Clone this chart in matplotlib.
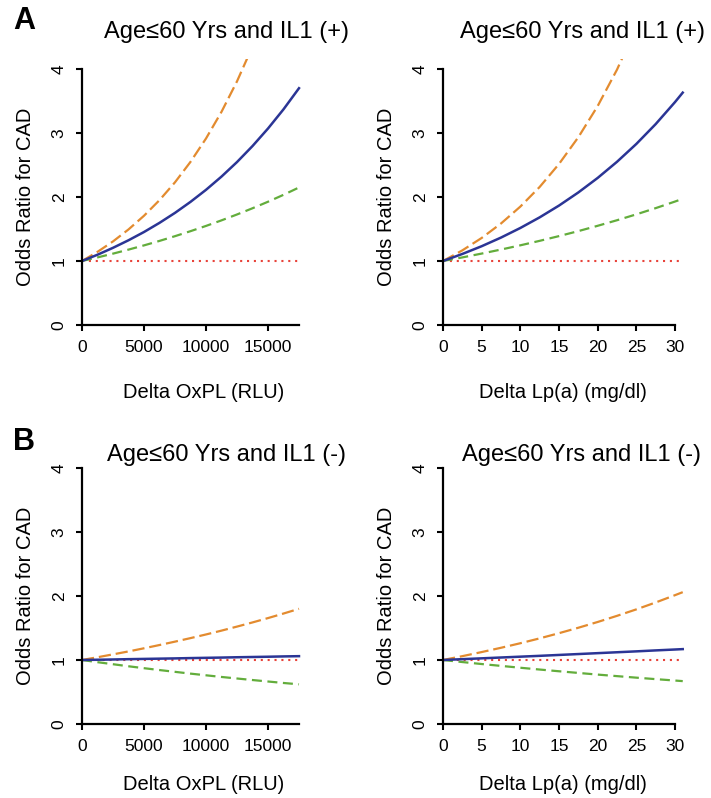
import matplotlib
matplotlib.use("Agg")
import matplotlib.pyplot as plt

plt.rcParams['font.family'] = ['Liberation Sans', 'DejaVu Sans']

# x grids
x_oxpl = [0, 1250, 2500, 3750, 5000, 6250, 7500, 8750, 10000, 11250, 12500, 13750, 15000, 16250, 17500]
x_lpa = [0, 2.5, 5, 7.5, 10, 12.5, 15, 17.5, 20, 22.5, 25, 27.5, 30, 31]

# panel A (IL1 +), OxPL
a_oxpl_or = [1.000, 1.098, 1.206, 1.324, 1.453, 1.596, 1.752, 1.924, 2.112, 2.319, 2.546, 2.796, 3.070, 3.370, 3.700]
a_oxpl_hi = [1.000, 1.143, 1.306, 1.493, 1.707, 1.951, 2.230, 2.549, 2.914, 3.331, 3.807, 4.352, 4.975, 5.687, 6.500]
a_oxpl_lo = [1.000, 1.056, 1.115, 1.178, 1.244, 1.314, 1.388, 1.466, 1.548, 1.635, 1.727, 1.824, 1.926, 2.034, 2.149]

# panel A (IL1 +), Lp(a)
a_lpa_or = [1.000, 1.110, 1.231, 1.366, 1.516, 1.682, 1.866, 2.071, 2.298, 2.550, 2.829, 3.139, 3.483, 3.631]
a_lpa_hi = [1.000, 1.166, 1.360, 1.586, 1.850, 2.157, 2.516, 2.934, 3.421, 3.990, 4.653, 5.430, 6.330, 6.740]
a_lpa_lo = [1.000, 1.056, 1.116, 1.179, 1.245, 1.315, 1.389, 1.467, 1.550, 1.637, 1.729, 1.826, 1.929, 1.972]

# panel B (IL1 -), OxPL
b_oxpl_or = [1.000, 1.004, 1.008, 1.013, 1.017, 1.021, 1.025, 1.030, 1.034, 1.038, 1.043, 1.047, 1.051, 1.056, 1.060]
b_oxpl_hi = [1.000, 1.043, 1.088, 1.134, 1.183, 1.234, 1.287, 1.342, 1.399, 1.459, 1.522, 1.587, 1.655, 1.726, 1.800]
b_oxpl_lo = [1.000, 0.966, 0.934, 0.902, 0.872, 0.843, 0.815, 0.787, 0.761, 0.735, 0.711, 0.687, 0.664, 0.641, 0.620]

# panel B (IL1 -), Lp(a)
b_lpa_or = [1.000, 1.013, 1.026, 1.039, 1.052, 1.065, 1.079, 1.093, 1.107, 1.121, 1.135, 1.150, 1.164, 1.170]
b_lpa_hi = [1.000, 1.060, 1.124, 1.191, 1.262, 1.338, 1.419, 1.504, 1.594, 1.690, 1.791, 1.899, 2.013, 2.060]
b_lpa_lo = [1.000, 0.968, 0.937, 0.908, 0.879, 0.851, 0.824, 0.798, 0.772, 0.748, 0.724, 0.701, 0.679, 0.670]

titles = ["Age\u226460 Yrs and IL1 (+)", "Age\u226460 Yrs and IL1 (+)",
          "Age\u226460 Yrs and IL1 (-)", "Age\u226460 Yrs and IL1 (-)"]
xlabels = ["Delta OxPL (RLU)", "Delta Lp(a) (mg/dl)"]
ylabel = "Odds Ratio for CAD"
oxpl_ticks = [0, 5000, 10000, 15000]
lpa_ticks = [0, 5, 10, 15, 20, 25, 30]
y_ticks = [0, 1, 2, 3, 4]

W, H = 711, 798
fig = plt.figure(figsize=(W / 100, H / 100), dpi=100)

c_blue = "#2b3595"
c_orange = "#e38b2f"
c_green = "#63ad3c"
c_red = "#e8433a"


def make_ax(x0_px, y0_px, xmax, px_per_unit):
    # y0_px = pixel row of y=0, x0_px = pixel col of x=0
    ytop = 4.15
    w = xmax * px_per_unit
    h = ytop * 64
    ax = fig.add_axes([x0_px / W, (H - y0_px) / H, w / W, h / H])
    ax.set_xlim(0, xmax)
    ax.set_ylim(0, ytop)
    for s in ["top", "right"]:
        ax.spines[s].set_visible(False)
    for s in ["left", "bottom"]:
        ax.spines[s].set_linewidth(1.6)
    ax.spines["left"].set_bounds(0, 4)
    ax.set_yticks(y_ticks)
    ax.set_yticklabels([str(t) for t in y_ticks], rotation=90, va="center")
    ax.tick_params(direction="out", length=4.5, width=1.5, labelsize=12.5, pad=6.5)
    ax.patch.set_visible(False)
    return ax


def draw(ax, x, odds, hi, lo):
    ax.plot(x, [1] * len(x), color=c_red, lw=1.5, dashes=(1, 2.3))
    ax.plot(x, hi, color=c_orange, lw=1.6, dashes=(5.5, 2.2))
    ax.plot(x, lo, color=c_green, lw=1.6, dashes=(4.5, 2.5))
    ax.plot(x, odds, color=c_blue, lw=1.8)


panels = [
    (82, 325, 17700, 62 / 5000, x_oxpl, a_oxpl_or, a_oxpl_hi, a_oxpl_lo, oxpl_ticks, 17500),
    (443, 325, 31.3, 232 / 30, x_lpa, a_lpa_or, a_lpa_hi, a_lpa_lo, lpa_ticks, 30),
    (82, 724, 17700, 62 / 5000, x_oxpl, b_oxpl_or, b_oxpl_hi, b_oxpl_lo, oxpl_ticks, 17500),
    (443, 724, 31.3, 232 / 30, x_lpa, b_lpa_or, b_lpa_hi, b_lpa_lo, lpa_ticks, 30),
]

for i, (x0, y0, xmax, ppu, x, o, hi, lo, xt, xend) in enumerate(panels):
    ax = make_ax(x0, y0, xmax, ppu)
    draw(ax, x, o, hi, lo)
    ax.set_xticks(xt)
    ax.set_xticklabels([str(t) for t in xt])
    ax.spines["bottom"].set_bounds(0, xend)

    # texts placed in pixels
    tx = 226 if i % 2 == 0 else 582
    ty = 32 if i < 2 else 455
    fig.text(tx / W, 1 - ty / H, titles[i], ha="center", va="center", fontsize=17)
    lx = 204 if i % 2 == 0 else 563
    ly = y0 + 67 if i < 2 else y0 + 60
    fig.text(lx / W, 1 - ly / H, xlabels[i % 2], ha="center", va="center", fontsize=14.5)
    yx = 26 if i % 2 == 0 else 387
    fig.text(yx / W, 1 - (y0 - 128) / H, ylabel, ha="center", va="center",
             rotation=90, fontsize=14.5)

fig.text(24 / W, 1 - 21 / H, "A", ha="center", va="center", fontsize=22, fontweight="bold")
fig.text(24 / W, 1 - 442 / H, "B", ha="center", va="center", fontsize=22, fontweight="bold")

fig.savefig("out.png", dpi=100)
